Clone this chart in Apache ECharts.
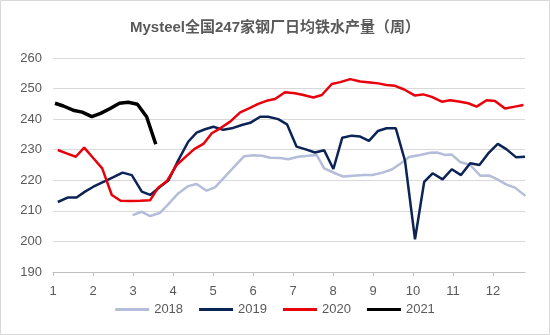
<!DOCTYPE html>
<html><head><meta charset="utf-8">
<script src="https://cdn.jsdelivr.net/npm/echarts@6/dist/echarts.min.js"></script>
<style>html,body{margin:0;padding:0;background:#fff}#c{width:550px;height:335px}</style>
</head><body><div id="c"></div>
<script>
// x positions are dates expressed in months (1 = start of January)
const monthTicks = [1,2,3,4,5,6,7,8,9,10,11,12];
const legendNames = ['2018','2019','2020','2021'];

const x2018 = [2.99,3.22,3.43,3.68,3.85,4.13,4.38,4.59,4.84,5.05,5.30,5.55,5.78,6.01,6.22,6.43,6.68,6.88,7.13,7.38,7.59,7.78,8.05,8.26,8.51,8.76,8.98,9.24,9.48,9.70,9.90,10.18,10.43,10.60,10.80,10.97,11.18,11.43,11.68,11.90,12.11,12.34,12.55,12.81];
const v2018 = [208.6,209.7,208.3,209.4,211.7,215.7,218.1,218.8,216.6,217.7,221.2,224.7,227.9,228.2,228.0,227.4,227.3,226.9,227.7,228.0,228.3,223.9,222.3,221.2,221.5,221.7,221.7,222.5,223.6,225.6,227.6,228.3,229.0,229.1,228.3,228.4,226.0,225.0,221.5,221.6,220.3,218.6,217.6,214.9];

const x2019 = [1.12,1.38,1.59,1.80,2.01,2.26,2.51,2.74,2.97,3.22,3.43,3.68,3.89,4.13,4.38,4.59,4.80,5.01,5.26,5.47,5.72,5.93,6.18,6.38,6.63,6.85,7.09,7.30,7.55,7.78,8.01,8.23,8.47,8.68,8.90,9.12,9.34,9.57,9.80,10.05,10.28,10.49,10.74,10.97,11.20,11.43,11.66,11.88,12.12,12.34,12.58,12.80];
const v2019 = [212.9,214.4,214.4,216.3,217.9,219.5,221.0,222.5,221.7,216.3,215.2,217.9,220.0,226.5,232.6,235.6,236.7,237.5,236.5,237.0,238.1,238.8,240.8,240.8,240.0,238.3,231.0,230.2,229.1,229.8,223.7,233.9,234.6,234.3,232.9,236.1,237.0,237.0,226.4,200.7,219.5,222.3,220.3,223.6,221.7,225.6,225.0,228.8,231.9,230.1,227.5,227.7];

const x2020 = [1.12,1.34,1.57,1.78,2.01,2.23,2.47,2.69,2.93,3.18,3.43,3.63,3.85,4.09,4.30,4.53,4.76,4.97,5.18,5.43,5.68,5.90,6.13,6.34,6.55,6.80,7.05,7.26,7.51,7.72,7.97,8.18,8.43,8.68,8.93,9.13,9.34,9.55,9.78,10.05,10.26,10.47,10.72,10.93,11.18,11.38,11.59,11.84,12.05,12.30,12.55,12.76];
const v2020 = [229.9,228.8,227.7,230.7,227.2,223.9,215.2,213.3,213.2,213.3,213.5,217.6,219.8,225.0,227.5,230.2,231.9,235.4,237.0,239.2,242.2,243.5,245.0,246.0,246.6,248.8,248.5,247.9,247.1,247.9,251.5,252.1,253.1,252.3,252.0,251.7,251.2,250.9,249.7,247.7,248.1,247.3,245.7,246.2,245.7,245.2,244.1,246.2,245.9,243.5,244.1,244.6];

const x2021 = [1.05,1.26,1.53,1.73,1.97,2.19,2.43,2.66,2.88,3.11,3.34,3.57];
const v2021 = [245.2,244.3,242.8,242.3,240.8,241.9,243.5,245.2,245.5,244.9,240.8,231.8];

const zip = (xs, vs) => xs.map((x, i) => [x, vs[i]]);
const colors = ['#b4bdd9', '#0c2355', '#e8000b', '#000000'];
const widths = [2.5, 2.5, 2.5, 3.5];
const seriesData = [zip(x2018, v2018), zip(x2019, v2019), zip(x2020, v2020), zip(x2021, v2021)];

const font = '"Liberation Sans", "Noto Sans CJK SC", sans-serif';
const chart = echarts.init(document.getElementById('c'), null, {renderer: 'canvas'});
chart.setOption({
  animation: false,
  backgroundColor: '#fff',
  title: {
    text: 'Mysteel全国247家钢厂日均铁水产量（周）',
    left: 'center', top: 15,
    textStyle: {fontSize: 15, fontWeight: 'bold', color: '#595959', fontFamily: font}
  },
  graphic: [{type: 'rect', shape: {x: 0.5, y: 0.5, width: 549, height: 334}, style: {fill: 'none', stroke: '#d9d9d9', lineWidth: 1}, silent: true}],
  legend: {
    data: legendNames,
    bottom: 14, left: 'center',
    icon: 'rect', itemWidth: 34, itemHeight: 3, itemGap: 16,
    textStyle: {fontSize: 13, color: '#595959', fontFamily: font}
  },
  grid: {left: 53, right: 25, top: 58, bottom: 63},
  xAxis: {
    type: 'value', min: 1, max: 12.8, interval: 1,
    axisLine: {show: true, lineStyle: {color: '#bfbfbf'}},
    axisTick: {show: true, length: 4, lineStyle: {color: '#bfbfbf'}},
    splitLine: {show: false},
    axisLabel: {
      showMaxLabel: false, margin: 13, fontSize: 13, color: '#595959', fontFamily: font,
      formatter: v => monthTicks.includes(v) ? String(v) : ''
    }
  },
  yAxis: {
    type: 'value', min: 190, max: 260, interval: 10,
    axisLine: {show: false}, axisTick: {show: false},
    splitLine: {lineStyle: {color: '#d9d9d9'}},
    axisLabel: {margin: 11, fontSize: 13, color: '#595959', fontFamily: font}
  },
  series: legendNames.map((name, i) => ({
    name, type: 'line', data: seriesData[i],
    showSymbol: false, symbol: 'none',
    lineStyle: {color: colors[i], width: widths[i]},
    itemStyle: {color: colors[i]},
    z: i + 2
  }))
});
</script></body></html>
